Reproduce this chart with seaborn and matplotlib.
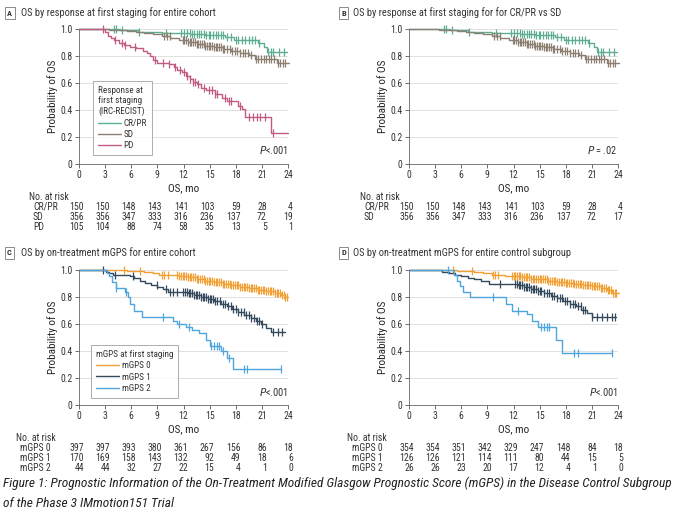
import matplotlib
matplotlib.use('Agg')
import matplotlib.pyplot as plt
import matplotlib.transforms as mtransforms
import numpy as np
import pandas as pd
import seaborn as sns

# ---- data ----
months = [0, 3, 6, 9, 12, 15, 18, 21, 24]

# panel A / B: response at first staging
crpr_t = [0, 4.7, 6.8, 9.5, 12.8, 14.5, 16.8, 17.8, 20.6, 21.2, 21.6]
crpr_s = [1.0, 0.99, 0.98, 0.97, 0.96, 0.955, 0.94, 0.92, 0.90, 0.87, 0.83]
crpr_cens = [4.0, 4.3, 4.9, 6.9, 10.0, 11.7, 12.1, 12.4, 12.7, 13.0, 13.2, 13.5, 13.8, 14.0,
             14.3, 14.6, 14.9, 15.1, 15.4, 15.7, 16.0, 16.3, 16.5, 17.0, 17.4, 18.0, 18.3,
             18.7, 19.1, 19.5, 19.9, 20.2, 20.7, 21.7, 22.0, 22.3, 23.0, 23.5]
crpr_end = 23.9

sd_t = [0, 3.5, 4.5, 5.5, 6.5, 7.5, 8.5, 9.5, 10.5, 11.5, 12.5, 13.5, 14.5, 15.5, 16.5,
        17.5, 18.5, 19.5, 20.2, 22.7]
sd_s = [1.0, 0.995, 0.99, 0.985, 0.978, 0.97, 0.96, 0.945, 0.93, 0.92, 0.905, 0.89, 0.875,
        0.865, 0.85, 0.835, 0.82, 0.805, 0.775, 0.75]
sd_cens = [9.8, 10.1, 10.4, 11.9, 12.1, 12.3, 12.5, 12.7, 12.9, 13.1, 13.3, 13.5, 13.7, 13.9,
           14.1, 14.3, 14.5, 14.7, 14.9, 15.1, 15.3, 15.5, 15.7, 15.9, 16.1, 16.3, 16.5, 16.7,
           17.0, 17.3, 17.6, 17.9, 18.2, 18.5, 18.8, 19.1, 19.4, 19.7, 20.3, 20.6, 20.9, 21.2,
           21.5, 21.8, 22.1, 22.4, 22.8, 23.1, 23.4, 23.7]
sd_end = 24.1

pd_t = [0, 3.0, 3.3, 3.7, 4.0, 4.6, 5.2, 5.8, 6.6, 7.4, 7.8, 8.1, 8.5, 9.0, 10.3, 10.9,
        11.3, 11.8, 12.3, 12.7, 13.1, 13.5, 14.0, 14.6, 15.6, 16.4, 17.0, 18.3, 18.7, 19.1, 22.1]
pd_s = [1.0, 0.98, 0.95, 0.93, 0.92, 0.90, 0.88, 0.87, 0.86, 0.84, 0.82, 0.80, 0.77, 0.75,
        0.74, 0.72, 0.70, 0.68, 0.65, 0.63, 0.61, 0.59, 0.565, 0.55, 0.52, 0.49, 0.465, 0.43,
        0.405, 0.35, 0.23]
pd_cens = [2.8, 4.1, 4.9, 5.3, 6.4, 8.7, 9.7, 10.3, 11.0, 11.6, 12.0, 12.4, 12.8, 13.1, 13.3,
           13.7, 14.3, 14.9, 15.3, 15.6, 15.8, 16.8, 17.2, 17.5, 18.5, 19.5, 20.0, 20.4, 20.8,
           21.4, 22.3]
pd_end = 24.0

risk_a = {'CR/PR': [150, 150, 148, 143, 141, 103, 59, 28, 4],
          'SD': [356, 356, 347, 333, 316, 236, 137, 72, 19],
          'PD': [105, 104, 88, 74, 58, 35, 13, 5, 1]}
risk_b = {'CR/PR': [150, 150, 148, 143, 141, 103, 59, 28, 4],
          'SD': [356, 356, 347, 333, 316, 236, 137, 72, 17]}

# panel C: mGPS, entire cohort
c0_t = [0, 5.5, 6.5, 7.5, 8.5, 9.2, 10.5, 11.5, 12.5, 13.5, 14.5, 15.5, 16.5, 17.5, 18.5,
        19.5, 20.5, 21.5, 22.5, 23.2, 23.7]
c0_s = [1.0, 0.995, 0.99, 0.985, 0.975, 0.965, 0.96, 0.955, 0.945, 0.935, 0.92, 0.91, 0.90,
        0.89, 0.875, 0.865, 0.855, 0.845, 0.83, 0.815, 0.80]
c0_cens = [5.2, 7.0, 9.5, 9.8, 10.2, 11.3, 11.5, 11.7, 11.9, 12.1, 12.3, 12.5, 12.7, 12.9,
           13.1, 13.3, 13.5, 13.7, 13.9, 14.1, 14.3, 14.5, 14.7, 14.9, 15.1, 15.3, 15.5, 15.7,
           15.9, 16.1, 16.3, 16.5, 16.7, 16.9, 17.1, 17.3, 17.5, 17.7, 17.9, 18.1, 18.3, 18.5,
           18.7, 18.9, 19.1, 19.3, 19.5, 19.7, 19.9, 20.1, 20.3, 20.5, 20.7, 20.9, 21.1, 21.3,
           21.5, 21.7, 21.9, 22.1, 22.3, 22.5, 22.7, 22.9, 23.1, 23.3, 23.5, 23.7, 23.9]
c0_end = 24.0

c1_t = [0, 3.1, 3.5, 3.9, 5.8, 6.3, 7.0, 7.6, 8.3, 9.0, 9.7, 10.2, 12.5, 13.2, 14.0, 14.8,
        15.5, 16.3, 17.0, 17.6, 18.3, 19.0, 19.7, 20.3, 20.9, 21.5, 22.0]
c1_s = [1.0, 0.985, 0.975, 0.965, 0.955, 0.94, 0.92, 0.905, 0.89, 0.875, 0.86, 0.84, 0.83,
        0.815, 0.80, 0.785, 0.77, 0.75, 0.73, 0.71, 0.69, 0.67, 0.645, 0.62, 0.60, 0.57, 0.54]
c1_cens = [2.8, 4.1, 6.2, 8.9, 10.0, 10.4, 10.8, 11.2, 11.9, 12.2, 12.4, 12.6, 12.8, 13.0,
           13.2, 13.4, 13.6, 13.8, 14.0, 14.2, 14.4, 14.6, 14.8, 15.0, 15.2, 15.4, 15.6, 15.9,
           16.2, 16.5, 16.8, 17.1, 17.4, 17.7, 18.0, 18.3, 18.6, 18.9, 19.2, 19.5, 19.8, 20.1,
           20.4, 20.7, 21.0, 22.3, 22.8, 23.3]
c1_end = 23.7

c2_t = [0, 3.2, 3.5, 3.8, 4.2, 5.3, 5.6, 5.9, 6.3, 7.2, 10.8, 11.3, 12.3, 13.0, 13.8, 14.6,
        15.0, 16.3, 17.0, 17.7]
c2_s = [1.0, 0.977, 0.955, 0.91, 0.865, 0.84, 0.80, 0.75, 0.70, 0.65, 0.625, 0.60, 0.58,
        0.555, 0.53, 0.48, 0.44, 0.40, 0.345, 0.27]
c2_cens = [4.3, 5.4, 9.7, 11.5, 12.6, 15.2, 15.5, 15.8, 16.1, 16.5, 17.2, 19.0, 19.3, 23.2]
c2_end = 23.2

risk_c = {'mGPS 0': [397, 397, 393, 380, 361, 267, 156, 86, 18],
          'mGPS 1': [170, 169, 158, 143, 132, 92, 49, 18, 6],
          'mGPS 2': [44, 44, 32, 27, 22, 15, 4, 1, 0]}

# panel D: mGPS, control subgroup
d0_t = [0, 5.5, 6.5, 7.5, 8.5, 9.5, 11.0, 12.0, 13.0, 14.0, 15.0, 16.0, 17.0, 18.0, 19.0,
        20.0, 21.0, 22.0, 22.7, 23.3]
d0_s = [1.0, 0.995, 0.99, 0.983, 0.975, 0.965, 0.958, 0.952, 0.945, 0.937, 0.93, 0.92, 0.912,
        0.905, 0.895, 0.888, 0.878, 0.865, 0.85, 0.83]
d0_cens = [5.1, 7.2, 9.7, 9.9, 10.2, 11.8, 12.0, 12.2, 12.4, 12.6, 12.8, 13.0, 13.2, 13.4,
           13.6, 13.8, 14.0, 14.2, 14.4, 14.6, 14.8, 15.0, 15.2, 15.4, 15.6, 15.8, 16.0, 16.2,
           16.4, 16.6, 16.8, 17.0, 17.2, 17.4, 17.6, 17.8, 18.0, 18.2, 18.4, 18.6, 18.8, 19.0,
           19.2, 19.4, 19.6, 19.8, 20.0, 20.2, 20.4, 20.6, 20.8, 21.0, 21.2, 21.4, 21.6, 21.8,
           22.0, 22.2, 22.4, 22.6, 22.8, 23.0, 23.2, 23.4, 23.6, 23.8]
d0_end = 24.1

d1_t = [0, 3.8, 4.6, 5.3, 6.0, 6.8, 7.5, 8.3, 9.2, 12.5, 13.2, 14.0, 14.8, 15.5, 16.3, 17.0,
        17.7, 18.5, 19.2, 19.8, 20.4, 21.0]
d1_s = [1.0, 0.985, 0.975, 0.965, 0.955, 0.94, 0.93, 0.915, 0.90, 0.89, 0.875, 0.86, 0.845,
        0.83, 0.81, 0.79, 0.77, 0.75, 0.73, 0.705, 0.68, 0.65]
d1_cens = [10.5, 12.2, 12.4, 12.6, 12.8, 13.0, 13.2, 13.4, 13.6, 13.8, 14.0, 14.2, 14.4, 14.6,
           14.8, 15.0, 15.2, 15.5, 15.8, 16.1, 16.4, 16.7, 17.0, 17.3, 17.6, 17.9, 18.2, 18.5,
           18.8, 19.1, 19.4, 19.7, 20.0, 20.2, 21.0, 21.6, 22.2, 22.7, 23.3, 23.7]
d1_end = 23.8

d2_t = [0, 5.2, 5.5, 5.8, 6.2, 7.0, 11.1, 11.8, 13.6, 14.1, 14.8, 16.9, 17.6]
d2_s = [1.0, 0.96, 0.92, 0.88, 0.84, 0.80, 0.75, 0.70, 0.675, 0.62, 0.58, 0.48, 0.385]
d2_cens = [4.5, 9.7, 12.5, 15.2, 15.5, 15.8, 16.1, 19.0, 19.4, 23.3]
d2_end = 23.3

risk_d = {'mGPS 0': [354, 354, 351, 342, 329, 247, 148, 84, 18],
          'mGPS 1': [126, 126, 121, 114, 111, 80, 44, 15, 5],
          'mGPS 2': [26, 26, 23, 20, 17, 12, 4, 1, 0]}

# ---- styling ----
W, H = 680, 517
c_crpr, c_sd, c_pd = '#5dae90', '#8c7f72', '#c25a85'
c_g0, c_g1, c_g2 = '#f2a034', '#34495c', '#4fa5dd'
txt = '#333333'

sns.set_theme(style='white')
font = ['Liberation Sans Narrow', 'Roboto Condensed', 'Liberation Sans', 'DejaVu Sans']
plt.rcParams['font.family'] = font
plt.rcParams['mathtext.fontset'] = 'custom'
plt.rcParams['mathtext.it'] = font[0] + ':italic'
plt.rcParams['mathtext.rm'] = font[0]
plt.rcParams['text.color'] = txt

fig = plt.figure(figsize=(W / 100, H / 100), dpi=100)


def px_axes(x0, x24, y0, y1):
    ax = fig.add_axes([x0 / W, 1 - y0 / H, (x24 - x0) / W, (y0 - y1) / H])
    ax.set_xlim(0, 24)
    ax.set_ylim(0, 1)
    ax.set_xticks(months)
    ax.set_xticklabels([str(m) for m in months])
    ax.set_yticks([0, 0.2, 0.4, 0.6, 0.8, 1.0])
    ax.set_yticklabels(['0', '0.2', '0.4', '0.6', '0.8', '1.0'])
    ax.tick_params(axis='both', labelsize=7, colors='#555555', labelcolor=txt,
                   length=3, width=0.6, pad=1.5, left=True, bottom=True)
    ax.yaxis.grid(True, color='#dcdcdc', lw=0.6)
    ax.set_axisbelow(True)
    for side in ['top', 'right']:
        ax.spines[side].set_visible(False)
    for side in ['left', 'bottom']:
        ax.spines[side].set_color('#666666')
        ax.spines[side].set_linewidth(0.6)
    return ax


def km_curve(ax, t, s, t_end, cens, color, label):
    df = pd.DataFrame({'time': list(t) + [t_end], 'surv': list(s) + [s[-1]]})
    sns.lineplot(data=df, x='time', y='surv', drawstyle='steps-post', estimator=None,
                 sort=False, color=color, lw=1.0, ax=ax, clip_on=False)
    line = ax.lines[-1]
    idx = np.searchsorted(t, cens, side='right') - 1
    cs = np.asarray(s)[idx]
    ax.plot(cens, cs, ls='none', marker='|', ms=6, mew=0.9, color=color, clip_on=False)
    return line, label


def risk_table(ax, table, x_title, x_label, y_title, dy=10):
    trans = mtransforms.blended_transform_factory(ax.transData, fig.transFigure)
    fig.text(x_title / W, 1 - y_title / H, 'No. at risk', fontsize=7, va='center')
    for i, (name, vals) in enumerate(table.items()):
        y = 1 - (y_title + dy * (i + 1)) / H
        fig.text(x_label / W, y, name, fontsize=7, va='center')
        for m, v in zip(months, vals):
            ax.text(m + 0.55, y, str(v), transform=trans, fontsize=7, ha='right', va='center')


def panel_title(letter, x_box, x_txt, y, title):
    fig.text(x_box / W, 1 - y / H, letter, fontsize=6, fontweight='bold', va='center',
             ha='left', bbox=dict(boxstyle='square,pad=0.3', fc='white', ec='#777777', lw=0.6))
    fig.text(x_txt / W, 1 - y / H, title, fontsize=7.5, va='center', ha='left')


def add_legend(ax, handles, title, anchor):
    leg = ax.legend([h for h, _ in handles], [l for _, l in handles], title=title,
                    loc='upper left', bbox_to_anchor=anchor, borderaxespad=0,
                    fontsize=6.6, title_fontsize=6.6, alignment='left', frameon=True,
                    fancybox=False, edgecolor='#888888', handlelength=2.5,
                    handletextpad=0.3, labelspacing=0.25, borderpad=0.55)
    leg.get_frame().set_linewidth(0.6)
    return leg


# ---- panel A ----
axA = px_axes(79, 288, 164, 29)
hA = [km_curve(axA, crpr_t, crpr_s, crpr_end, crpr_cens, c_crpr, 'CR/PR'),
      km_curve(axA, sd_t, sd_s, sd_end, sd_cens, c_sd, 'SD'),
      km_curve(axA, pd_t, pd_s, pd_end, pd_cens, c_pd, 'PD')]
add_legend(axA, hA, 'Response at\nfirst staging\n(IRC-RECIST)', (0.067, 0.615))
axA.text(24, 0.1, '$P$<.001', ha='right', va='center', fontsize=7.5)
panel_title('A', 7, 21, 13, 'OS by response at first staging for entire cohort')
risk_table(axA, risk_a, 29, 33, 197)

# ---- panel B ----
axB = px_axes(409, 618, 164, 29)
km_curve(axB, crpr_t, crpr_s, crpr_end, crpr_cens, c_crpr, 'CR/PR')
km_curve(axB, sd_t, sd_s, sd_end, sd_cens, c_sd, 'SD')
axB.text(24, 0.1, '$P$ = .02', ha='right', va='center', fontsize=7.5)
panel_title('B', 341, 353, 13, 'OS by response at first staging for for CR/PR vs SD')
risk_table(axB, risk_b, 360, 364, 197)

# ---- panel C ----
axC = px_axes(79, 288, 405, 270)
hC = [km_curve(axC, c0_t, c0_s, c0_end, c0_cens, c_g0, 'mGPS 0'),
      km_curve(axC, c1_t, c1_s, c1_end, c1_cens, c_g1, 'mGPS 1'),
      km_curve(axC, c2_t, c2_s, c2_end, c2_cens, c_g2, 'mGPS 2')]
add_legend(axC, hC, 'mGPS at first staging', (0.057, 0.444))
axC.text(24, 0.1, '$P$<.001', ha='right', va='center', fontsize=7.5)
panel_title('C', 7, 21, 253, 'OS by on-treatment mGPS for entire cohort')
risk_table(axC, risk_c, 16, 20, 438)

# ---- panel D ----
axD = px_axes(409, 618, 405, 270)
km_curve(axD, d0_t, d0_s, d0_end, d0_cens, c_g0, 'mGPS 0')
km_curve(axD, d1_t, d1_s, d1_end, d1_cens, c_g1, 'mGPS 1')
km_curve(axD, d2_t, d2_s, d2_end, d2_cens, c_g2, 'mGPS 2')
axD.text(24, 0.1, '$P$<.001', ha='right', va='center', fontsize=7.5)
panel_title('D', 341, 353, 253, 'OS by on-treatment mGPS for entire control subgroup')
risk_table(axD, risk_d, 347, 352, 438)

for ax in [axA, axB, axC, axD]:
    ax.set_xlabel('OS, mo', fontsize=8, labelpad=2)
    ax.set_ylabel('Probability of OS', fontsize=8, labelpad=2)

# ---- caption ----
cap_kw = dict(fontsize=9.6, style='italic', color='#222222', ha='left', va='baseline')
fig.text(3 / W, 1 - 487 / H, 'Figure 1: Prognostic Information of the On-Treatment Modified '
         'Glasgow Prognostic Score (mGPS) in the Disease Control Subgroup', **cap_kw)
fig.text(3 / W, 1 - 507 / H, 'of the Phase 3 IMmotion151 Trial', **cap_kw)

fig.savefig('out.png', dpi=100)
